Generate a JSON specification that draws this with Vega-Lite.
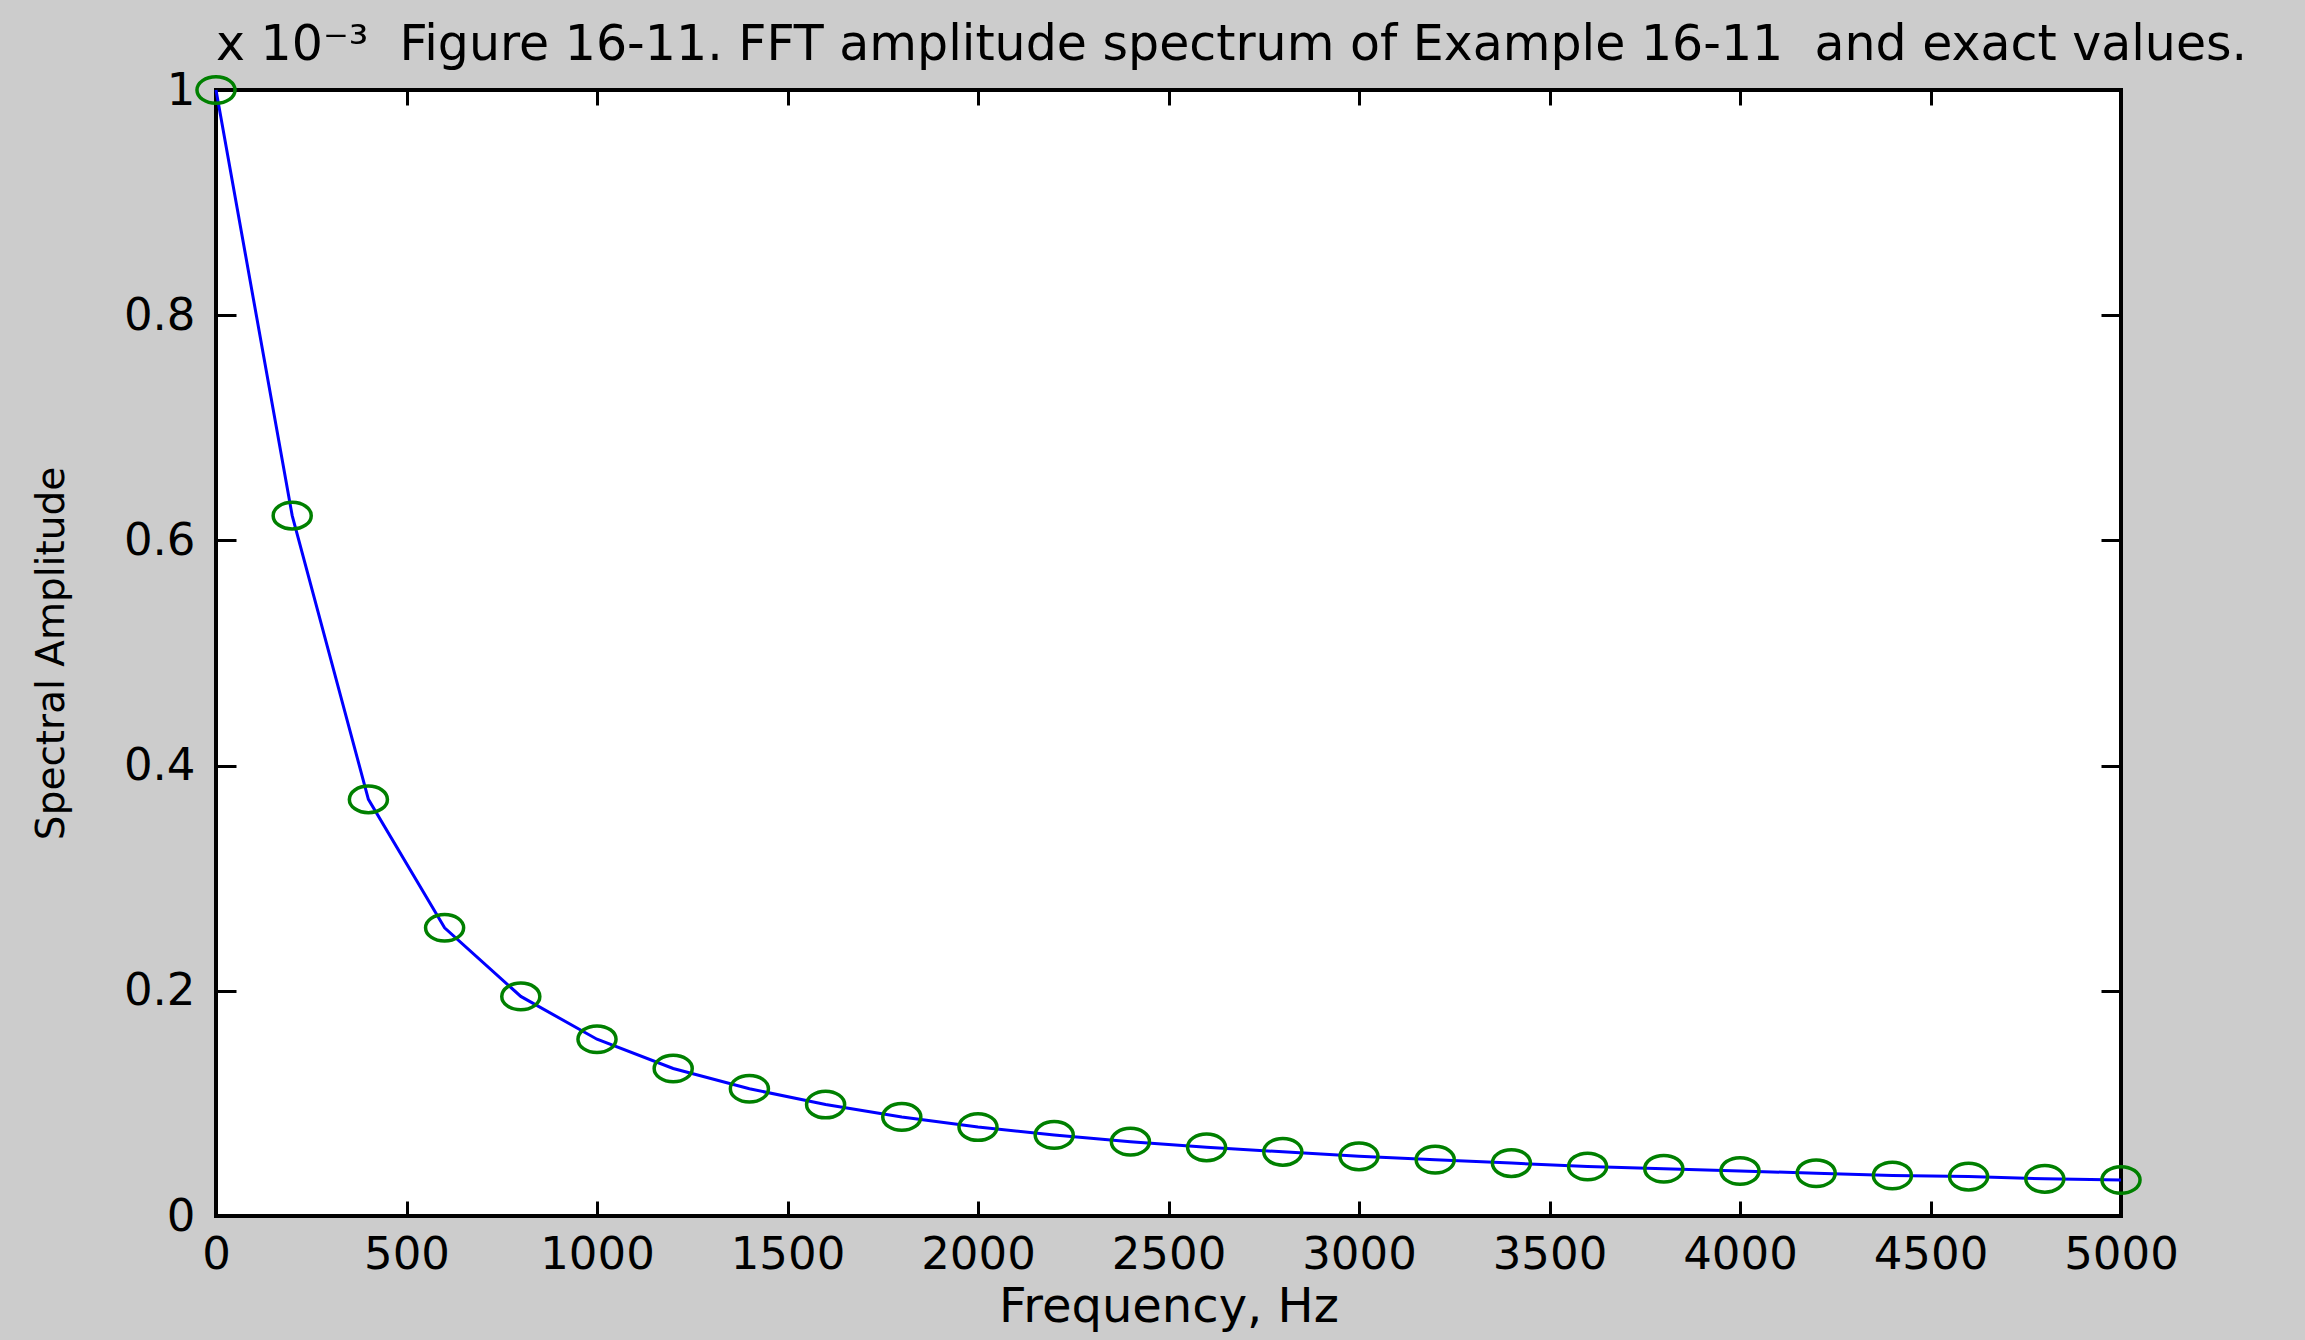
{
  "$schema": "https://vega.github.io/schema/vega-lite/v6.json",
  "width": 1905,
  "height": 1126,
  "autosize": "none",
  "padding": {"left": 216, "top": 90, "right": 184, "bottom": 124},
  "background": "#cccccc",
  "title": {
    "text": "x 10⁻³\u00a0 Figure 16-11. FFT amplitude spectrum of Example 16-11\u00a0 and exact values.",
    "anchor": "start",
    "frame": "group",
    "font": "DejaVu Sans",
    "fontSize": 49,
    "fontWeight": "normal",
    "color": "#000000",
    "offset": -2
  },
  "data": {
    "values": [
      {"f": 0, "a": 1.0},
      {"f": 200, "a": 0.622},
      {"f": 400, "a": 0.370},
      {"f": 600, "a": 0.256},
      {"f": 800, "a": 0.195},
      {"f": 1000, "a": 0.157},
      {"f": 1200, "a": 0.131},
      {"f": 1400, "a": 0.113},
      {"f": 1600, "a": 0.099},
      {"f": 1800, "a": 0.088},
      {"f": 2000, "a": 0.079},
      {"f": 2200, "a": 0.072},
      {"f": 2400, "a": 0.066},
      {"f": 2600, "a": 0.061},
      {"f": 2800, "a": 0.057},
      {"f": 3000, "a": 0.053},
      {"f": 3200, "a": 0.050},
      {"f": 3400, "a": 0.047},
      {"f": 3600, "a": 0.044},
      {"f": 3800, "a": 0.042},
      {"f": 4000, "a": 0.040},
      {"f": 4200, "a": 0.038},
      {"f": 4400, "a": 0.036},
      {"f": 4600, "a": 0.035},
      {"f": 4800, "a": 0.033},
      {"f": 5000, "a": 0.032}
    ]
  },
  "layer": [
    {
      "mark": {"type": "line", "color": "#0000ff", "strokeWidth": 3, "clip": false},
      "encoding": {
        "x": {
          "field": "f", "type": "quantitative",
          "scale": {"domain": [0, 5000], "nice": false, "zero": false},
          "axis": {
            "orient": "bottom",
            "title": "Frequency, Hz",
            "titleFontSize": 48,
            "values": [0, 500, 1000, 1500, 2000, 2500, 3000, 3500, 4000, 4500, 5000],
            "format": "d",
            "tickSize": -15,
            "labelPadding": 31,
            "titlePadding": 6
          }
        },
        "y": {
          "field": "a", "type": "quantitative",
          "scale": {"domain": [0, 1], "nice": false},
          "axis": {
            "orient": "left",
            "title": "Spectral Amplitude",
            "titleFontSize": 39,
            "values": [0, 0.2, 0.4, 0.6, 0.8, 1],
            "format": "~g",
            "tickSize": -20,
            "labelPadding": 41,
            "titlePadding": 52
          }
        }
      }
    },
    {
      "mark": {
        "type": "point",
        "shape": "M-1,0A1,0.7,0,1,1,1,0A1,0.7,0,1,1,-1,0Z",
        "size": 1450,
        "filled": false,
        "color": "#008000",
        "strokeWidth": 3.5,
        "opacity": 1,
        "clip": false
      },
      "encoding": {
        "x": {
          "field": "f", "type": "quantitative",
          "axis": {"orient": "top", "title": null, "labels": false, "tickSize": -15,
                   "values": [0, 500, 1000, 1500, 2000, 2500, 3000, 3500, 4000, 4500, 5000]}
        },
        "y": {
          "field": "a", "type": "quantitative",
          "axis": {"orient": "right", "title": null, "labels": false, "tickSize": -20,
                   "values": [0, 0.2, 0.4, 0.6, 0.8, 1]}
        }
      }
    }
  ],
  "resolve": {"axis": {"x": "independent", "y": "independent"}},
  "config": {
    "view": {"stroke": "#000000", "strokeWidth": 4, "fill": "#ffffff"},
    "axis": {
      "domain": false,
      "grid": false,
      "ticks": true,
      "tickColor": "#000000",
      "tickWidth": 3,
      "labelFont": "DejaVu Sans",
      "labelFontSize": 45,
      "labelColor": "#000000",
      "labelFlush": false,
      "labelOverlap": false,
      "titleFont": "DejaVu Sans",
      "titleFontSize": 42,
      "titleFontWeight": "normal",
      "titleColor": "#000000"
    }
  }
}
